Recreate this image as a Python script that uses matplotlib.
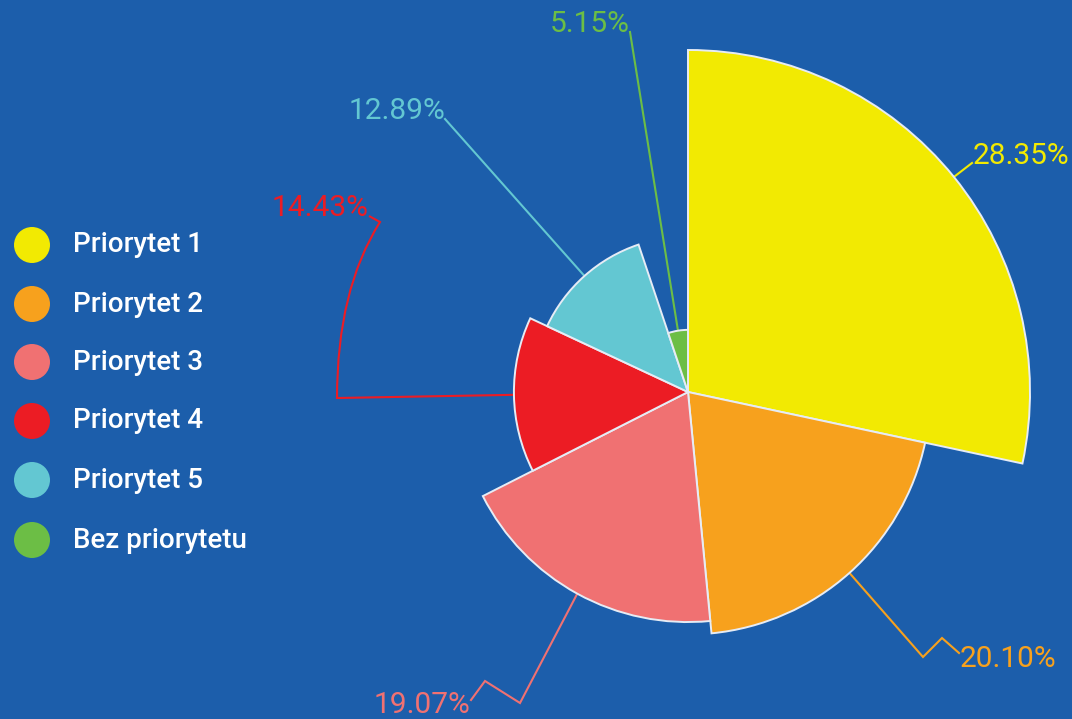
import matplotlib
matplotlib.use("Agg")
import matplotlib.pyplot as plt
import numpy as np
from matplotlib.patches import Wedge, Circle, PathPatch
from matplotlib.path import Path

categories = ["Priorytet 1", "Priorytet 2", "Priorytet 3", "Priorytet 4", "Priorytet 5", "Bez priorytetu"]
values = [28.35, 20.10, 19.07, 14.43, 12.89, 5.15]
labels = ["28.35%", "20.10%", "19.07%", "14.43%", "12.89%", "5.15%"]
colors = ["#F2EA02", "#F7A11D", "#F07172", "#EC1C24", "#63C7D2", "#6CBE45"]

BG = "#1C5EAB"
W, H = 1072, 719
CX, CY = 688, 392
RMAX = 342

plt.rcParams['font.family'] = ['Roboto', 'DejaVu Sans']

fig = plt.figure(figsize=(W / 100, H / 100), dpi=100, facecolor=BG)
ax = fig.add_axes([0, 0, 1, 1])
ax.set_xlim(0, W)
ax.set_ylim(0, H)
ax.set_facecolor(BG)
ax.axis("off")

def P(x, y):
    return (x, H - y)

total = sum(values)
vmax = max(values)
start = 90.0
anchors = []
for v, c in zip(values, colors):
    span = v / total * 360.0
    t2 = start
    t1 = start - span
    r = RMAX * v / vmax
    ax.add_patch(Wedge(P(CX, CY), r, t1, t2, facecolor=c, edgecolor="#E6ECF5", linewidth=1.4, zorder=2))
    mid = np.deg2rad((t1 + t2) / 2)
    anchors.append((CX + r * np.cos(mid), H - CY + r * np.sin(mid)))
    start = t1

# label layout (image pixel coords): text anchor, alignment, leader bends
layout = [
    dict(text=(973, 164), ha="left", bends=[(972, 163)]),
    dict(text=(960, 667), ha="left", bends=[(923, 657), (942, 638), (959, 653)]),
    dict(text=(470, 713), ha="right", bends=[(520, 703), (485, 681), (471, 700)]),
    dict(text=(368, 216), ha="right", bends=None),
    dict(text=(445, 119), ha="right", bends=[(445, 119)]),
    dict(text=(630, 32), ha="right", bends=[(630, 32)]),
]

for i, (lab, c, lay, a) in enumerate(zip(labels, colors, layout, anchors)):
    if lay["bends"] is not None:
        pts = [a] + [P(x, y) for x, y in lay["bends"]]
        xs, ys = zip(*pts)
        ax.plot(xs, ys, color=c, lw=1.5, zorder=1, solid_joinstyle="miter")
    else:
        verts = [a, P(337, 398), P(337, 290), P(380, 222), P(369, 216)]
        codes = [Path.MOVETO, Path.LINETO, Path.CURVE3, Path.CURVE3, Path.LINETO]
        ax.add_patch(PathPatch(Path(verts, codes), facecolor="none", edgecolor=c, lw=1.5, zorder=1))
    tx, ty = P(*lay["text"])
    ax.text(tx, ty, lab, color=c, fontsize=21.5, ha=lay["ha"], va="baseline", zorder=3)

# legend
leg_y = [245, 304, 362, 421, 480, 540]
for name, c, y in zip(categories, colors, leg_y):
    ax.add_patch(Circle(P(32, y), 18, facecolor=c, edgecolor="none", zorder=3))
    ax.text(73, H - y, name, color="white", fontsize=20, fontweight="medium", ha="left", va="center", zorder=3)

fig.savefig("out.png", dpi=100, facecolor=BG)
